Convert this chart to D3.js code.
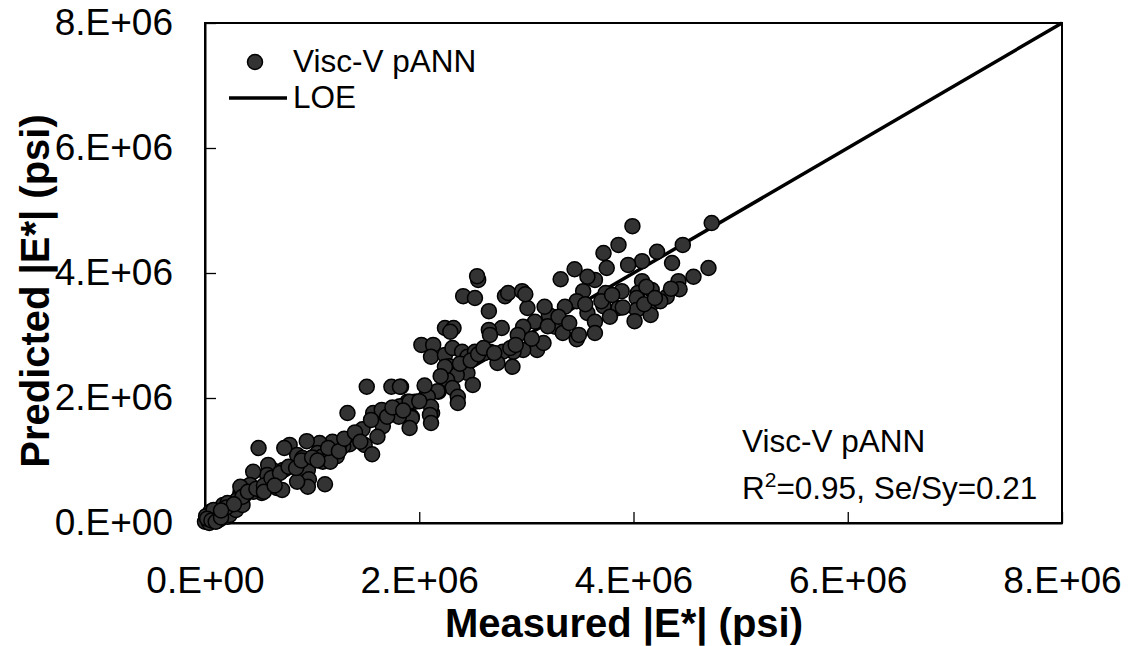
<!DOCTYPE html>
<html>
<head>
<meta charset="utf-8">
<script src="https://cdn.jsdelivr.net/npm/d3@7"></script>
<style>
  body { margin: 0; background: #fff; }
  svg { font-family: "Liberation Sans", Arial, sans-serif; }
</style>
</head>
<body>
<svg id="chart" width="1130" height="646"></svg>
<script>
// measured / predicted |E*| in millions of psi
const measured = [
  3.99, 4.73, 3.86, 3.72, 4.46, 4.22, 4.08, 3.95, 3.75, 4.70, 4.56, 4.42, 4.43, 4.31, 4.17, 4.08, 4.04, 4.03,
  4.16, 4.16, 4.03, 4.01, 3.89, 3.86, 3.74, 3.72, 3.64, 3.57, 3.45, 3.32, 3.53, 3.47, 3.57, 3.64, 3.64, 3.47,
  3.49, 3.36, 3.35, 3.27, 3.34, 3.21, 3.17, 3.08, 3.01, 2.97, 2.92, 3.10, 3.16, 2.97, 2.88, 2.87, 2.78, 2.73,
  2.66, 2.55, 2.54, 2.41, 2.52, 2.65, 2.80, 2.83, 2.96, 2.99, 2.77, 2.65, 2.66, 2.24, 2.32, 2.29, 2.02, 2.13,
  2.11, 2.24, 2.31, 2.40, 2.45, 2.52, 2.61, 2.28, 2.45, 2.35, 2.26, 2.50, 2.31, 2.18, 2.07, 1.96, 1.89, 2.36,
  2.36, 2.12, 1.83, 1.93, 2.24, 2.17, 2.08, 4.36, 4.25, 4.12, 3.78,
  1.51, 1.74, 1.82, 1.82, 1.91, 2.11, 2.10, 2.11, 1.93, 1.91, 1.81, 1.67, 1.57, 1.65, 1.33, 1.66, 1.61, 1.47,
  1.49, 1.56, 1.38, 1.35, 1.29, 1.26, 1.19, 1.17, 1.23, 1.07, 1.05, 0.95, 0.96, 1.09, 1.10, 1.17, 1.12, 0.97,
  0.96, 0.86, 0.86, 0.79, 0.86, 0.74, 0.73, 0.67, 0.61, 0.63, 0.59, 0.58, 0.50, 0.45, 0.53, 0.45, 0.37, 0.33,
  0.30, 0.25, 0.17, 0.16, 0.09, 0.03, 0.00, 0.05, 0.21, 0.42, 0.33, 0.91, 0.72,
  0.07, 0.12, 0.01, 0.08, 0.14, 0.19, 0.23, 0.04, 0.11, 0.29, 0.21, 0.35, 0.02, 0.06, 0.10, 0.15,
  0.35, 0.40, 0.48, 0.55, 0.62, 0.70, 0.78, 0.85, 0.90, 1.00, 1.05, 1.15, 1.25, 1.30, 1.40, 1.45, 1.55, 1.70,
  1.75, 1.85, 2.00, 2.05, 2.20, 2.38, 2.48, 2.55, 2.60, 2.70, 2.85, 2.90, 3.05, 3.20, 3.30, 3.40, 3.55, 3.70,
  3.80, 3.90, 4.10, 4.20, 4.35, 0.20, 0.27, 0.15, 0.55, 0.65
];
const predicted = [
  4.75, 4.80, 4.45, 4.32, 4.45, 4.34, 4.19, 4.13, 4.08, 4.08, 3.94, 3.87, 3.74, 3.62, 3.73, 3.87, 3.68, 3.60,
  3.49, 3.33, 3.41, 3.23, 3.71, 3.44, 3.68, 3.47, 3.89, 3.94, 4.06, 3.90, 3.71, 3.55, 3.36, 3.22, 3.04, 2.94,
  3.01, 3.46, 3.17, 3.14, 3.04, 3.33, 3.46, 3.22, 3.44, 3.14, 3.01, 2.77, 2.88, 2.77, 2.74, 2.50, 2.74, 2.56,
  2.74, 3.89, 3.95, 3.63, 3.60, 3.39, 3.63, 3.68, 3.71, 3.66, 3.12, 3.09, 3.01, 3.12, 3.12, 3.06, 2.85, 2.85,
  2.66, 2.69, 2.80, 2.74, 2.66, 2.74, 2.72, 2.51, 2.40, 2.37, 2.29, 2.21, 2.16, 2.10, 2.05, 1.94, 1.94, 2.02,
  1.92, 1.76, 2.18, 1.70, 2.50, 2.11, 2.02, 4.16, 3.55, 3.78, 3.30,
  2.18, 2.18, 2.18, 1.87, 1.94, 1.86, 1.73, 1.60, 1.68, 1.52, 1.70, 1.76, 1.76, 1.81, 1.76, 1.55, 1.38, 1.50,
  1.25, 1.10, 1.38, 1.26, 1.23, 1.28, 1.30, 1.14, 1.07, 1.28, 1.12, 1.31, 0.85, 1.06, 0.98, 0.98, 0.62, 0.70,
  0.58, 0.66, 0.93, 1.25, 1.09, 1.20, 0.85, 0.56, 0.69, 0.85, 0.93, 0.77, 1.20, 0.82, 0.48, 0.50, 0.45, 0.48,
  0.37, 0.24, 0.29, 0.16, 0.10, 0.05, 0.02, 0.18, 0.10, 0.61, 0.58, 1.04, 0.53,
  0.08, 0.14, 0.11, 0.21, 0.06, 0.18, 0.13, 0.00, 0.03, 0.21, 0.32, 0.29, 0.07, 0.04, 0.02, 0.09,
  0.42, 0.50, 0.55, 0.60, 0.72, 0.80, 0.90, 0.88, 1.00, 1.05, 1.00, 1.20, 1.15, 1.35, 1.45, 1.30, 1.65, 1.70,
  1.85, 1.80, 1.95, 2.20, 2.35, 2.55, 2.60, 2.70, 2.80, 2.72, 2.80, 2.85, 2.95, 3.15, 3.30, 3.20, 3.50, 3.55,
  3.65, 3.45, 3.50, 3.60, 3.75, 0.25, 0.30, 0.20, 0.50, 0.60
];
const tickValues = [0, 2e6, 4e6, 6e6, 8e6];
const tickLabels = ["0.E+00", "2.E+06", "4.E+06", "6.E+06", "8.E+06"];
const loe = [0, 8e6];

const svg = d3.select("#chart");
const margin = {top: 23, right: 68, bottom: 123, left: 205};
const W = +svg.attr("width"), H = +svg.attr("height");

const x = d3.scaleLinear().domain([0, 8e6]).range([margin.left, W - margin.right]);
const y = d3.scaleLinear().domain([0, 8e6]).range([H - margin.bottom, margin.top]);

const fmt = d => tickLabels[tickValues.indexOf(d)];

// frame
svg.append("rect")
    .attr("x", x(0)).attr("y", y(8e6))
    .attr("width", x(8e6) - x(0)).attr("height", y(0) - y(8e6))
    .attr("fill", "none").attr("stroke", "#000").attr("stroke-width", 2);

const xAxis = svg.append("g")
    .attr("transform", `translate(0,${y(0)})`)
    .call(d3.axisBottom(x).tickValues(tickValues).tickFormat(fmt)
        .tickSizeInner(-11).tickSizeOuter(0).tickPadding(44));
const yAxis = svg.append("g")
    .attr("transform", `translate(${x(0)},0)`)
    .call(d3.axisLeft(y).tickValues(tickValues).tickFormat(fmt)
        .tickSizeInner(-11).tickSizeOuter(0).tickPadding(32));

[xAxis, yAxis].forEach(a => {
    a.select(".domain").attr("stroke", "#000").attr("stroke-width", 2);
    a.selectAll(".tick line").attr("stroke", "#000").attr("stroke-width", 1.3);
    a.selectAll(".tick text")
        .attr("fill", "#000")
        .style("font-family", "'Liberation Sans', Arial, sans-serif")
        .style("font-size", "37px");
});

// line of equality
svg.append("line")
    .attr("x1", x(loe[0])).attr("y1", y(loe[0]))
    .attr("x2", x(loe[1])).attr("y2", y(loe[1]))
    .attr("stroke", "#000").attr("stroke-width", 3.5);

// points
svg.append("g")
    .selectAll("circle")
    .data(measured.map((m, i) => [m * 1e6, predicted[i] * 1e6]))
    .join("circle")
    .attr("cx", d => x(d[0]))
    .attr("cy", d => y(d[1]))
    .attr("r", 7.5)
    .attr("fill", "#333333")
    .attr("stroke", "#000")
    .attr("stroke-width", 1.5);

// axis titles
svg.append("text")
    .attr("x", 624).attr("y", 637)
    .attr("text-anchor", "middle")
    .attr("font-weight", "bold").attr("font-size", 40)
    .text("Measured |E*| (psi)");
svg.append("text")
    .attr("transform", "translate(49,291) rotate(-90)")
    .attr("text-anchor", "middle")
    .attr("font-weight", "bold").attr("font-size", 40)
    .text("Predicted |E*| (psi)");

// legend
const legend = svg.append("g").attr("font-size", 31.5);
legend.append("circle")
    .attr("cx", 255).attr("cy", 62).attr("r", 7.5)
    .attr("fill", "#333333").attr("stroke", "#000").attr("stroke-width", 1.5);
legend.append("text").attr("x", 293).attr("y", 72).text("Visc-V pANN");
legend.append("line")
    .attr("x1", 229).attr("x2", 287).attr("y1", 98).attr("y2", 98)
    .attr("stroke", "#000").attr("stroke-width", 3.5);
legend.append("text").attr("x", 293).attr("y", 108).text("LOE");

// annotation
const note = svg.append("g").attr("font-size", 31.5);
note.append("text").attr("x", 742).attr("y", 452).text("Visc-V pANN");
const r2 = note.append("text").attr("x", 742).attr("y", 499);
r2.append("tspan").text("R");
r2.append("tspan").attr("dy", -12).attr("font-size", 21).text("2");
r2.append("tspan").attr("dy", 12).text("=0.95, Se/Sy=0.21");
</script>
</body>
</html>
